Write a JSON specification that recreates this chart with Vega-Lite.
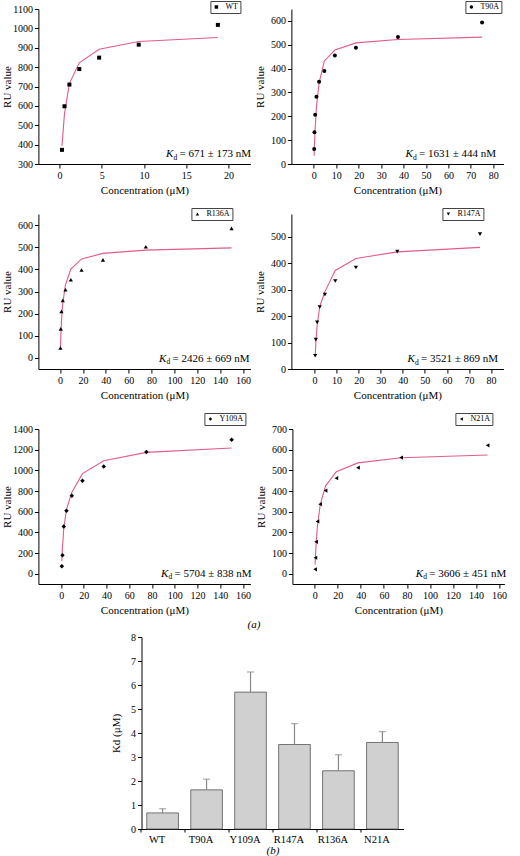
{
  "$schema": "https://vega.github.io/schema/vega-lite/v6.json",
  "padding": {"left": 1, "top": 0, "right": 0, "bottom": 0},
  "background": "white",
  "config": {
    "view": {"stroke": null},
    "font": "Liberation Serif",
    "numberFormat": "d",
    "axis": {"grid": false, "domainColor": "black", "tickColor": "black", "labelColor": "black", "titleColor": "black", "labelFont": "Liberation Serif", "titleFont": "Liberation Serif", "labelFontSize": 10, "titleFontSize": 11, "titleFontWeight": "normal", "tickSize": 4, "labelPadding": 2, "titlePadding": 4, "labelOverlap": false, "labelFlush": false},
    "axisY": {"titleX": -26},
    "legend": {"title": null, "strokeColor": "#444", "fillColor": "white", "padding": 2, "labelFont": "Liberation Serif", "labelFontSize": 8, "labelColor": "black", "symbolSize": 12, "labelOffset": 5, "symbolStrokeWidth": 0},
    "text": {"font": "Liberation Serif", "color": "black"},
    "title": {"font": "Liberation Serif", "fontWeight": "normal", "color": "black"}
  },
  "datasets": {
    "points": [
      {"mutant": "WT", "conc": 0.29, "ru": 373}, {"mutant": "WT", "conc": 0.59, "ru": 598}, {"mutant": "WT", "conc": 1.17, "ru": 710}, {"mutant": "WT", "conc": 2.34, "ru": 790}, {"mutant": "WT", "conc": 4.69, "ru": 849}, {"mutant": "WT", "conc": 9.38, "ru": 916}, {"mutant": "WT", "conc": 18.75, "ru": 1018},
      {"mutant": "T90A", "conc": 0.146, "ru": 63}, {"mutant": "T90A", "conc": 0.29, "ru": 133}, {"mutant": "T90A", "conc": 0.59, "ru": 207}, {"mutant": "T90A", "conc": 1.17, "ru": 282}, {"mutant": "T90A", "conc": 2.34, "ru": 345}, {"mutant": "T90A", "conc": 4.69, "ru": 390}, {"mutant": "T90A", "conc": 9.38, "ru": 455}, {"mutant": "T90A", "conc": 18.75, "ru": 488}, {"mutant": "T90A", "conc": 37.5, "ru": 533}, {"mutant": "T90A", "conc": 75, "ru": 593},
      {"mutant": "R136A", "conc": 0.29, "ru": 45}, {"mutant": "R136A", "conc": 0.59, "ru": 131}, {"mutant": "R136A", "conc": 1.17, "ru": 210}, {"mutant": "R136A", "conc": 2.34, "ru": 260}, {"mutant": "R136A", "conc": 4.69, "ru": 308}, {"mutant": "R136A", "conc": 9.38, "ru": 353}, {"mutant": "R136A", "conc": 18.75, "ru": 397}, {"mutant": "R136A", "conc": 37.5, "ru": 443}, {"mutant": "R136A", "conc": 75, "ru": 502}, {"mutant": "R136A", "conc": 150, "ru": 585},
      {"mutant": "R147A", "conc": 0.29, "ru": 50}, {"mutant": "R147A", "conc": 0.59, "ru": 111}, {"mutant": "R147A", "conc": 1.17, "ru": 176}, {"mutant": "R147A", "conc": 2.34, "ru": 234}, {"mutant": "R147A", "conc": 4.69, "ru": 281}, {"mutant": "R147A", "conc": 9.38, "ru": 332}, {"mutant": "R147A", "conc": 18.75, "ru": 383}, {"mutant": "R147A", "conc": 37.5, "ru": 443}, {"mutant": "R147A", "conc": 75, "ru": 509},
      {"mutant": "Y109A", "conc": 0.59, "ru": 71}, {"mutant": "Y109A", "conc": 1.17, "ru": 178}, {"mutant": "Y109A", "conc": 2.34, "ru": 456}, {"mutant": "Y109A", "conc": 4.69, "ru": 608}, {"mutant": "Y109A", "conc": 9.38, "ru": 753}, {"mutant": "Y109A", "conc": 18.75, "ru": 899}, {"mutant": "Y109A", "conc": 37.5, "ru": 1038}, {"mutant": "Y109A", "conc": 75, "ru": 1177}, {"mutant": "Y109A", "conc": 150, "ru": 1297},
      {"mutant": "N21A", "conc": 0.29, "ru": 21}, {"mutant": "N21A", "conc": 0.59, "ru": 77}, {"mutant": "N21A", "conc": 1.17, "ru": 154}, {"mutant": "N21A", "conc": 2.34, "ru": 253}, {"mutant": "N21A", "conc": 4.69, "ru": 336}, {"mutant": "N21A", "conc": 9.38, "ru": 402}, {"mutant": "N21A", "conc": 18.75, "ru": 462}, {"mutant": "N21A", "conc": 37.5, "ru": 513}, {"mutant": "N21A", "conc": 75, "ru": 562}, {"mutant": "N21A", "conc": 150, "ru": 621}
    ],
    "fits": [
      {"mutant": "WT", "conc": 0.29, "ru": 393}, {"mutant": "WT", "conc": 0.59, "ru": 560}, {"mutant": "WT", "conc": 1.17, "ru": 715}, {"mutant": "WT", "conc": 2.34, "ru": 822}, {"mutant": "WT", "conc": 4.69, "ru": 892}, {"mutant": "WT", "conc": 9.38, "ru": 932}, {"mutant": "WT", "conc": 18.75, "ru": 953},
      {"mutant": "T90A", "conc": 0.146, "ru": 35}, {"mutant": "T90A", "conc": 0.29, "ru": 85}, {"mutant": "T90A", "conc": 0.59, "ru": 150}, {"mutant": "T90A", "conc": 1.17, "ru": 240}, {"mutant": "T90A", "conc": 2.34, "ru": 340}, {"mutant": "T90A", "conc": 4.69, "ru": 432}, {"mutant": "T90A", "conc": 9.38, "ru": 478}, {"mutant": "T90A", "conc": 18.75, "ru": 508}, {"mutant": "T90A", "conc": 37.5, "ru": 522}, {"mutant": "T90A", "conc": 75, "ru": 532},
      {"mutant": "R136A", "conc": 0.29, "ru": 48}, {"mutant": "R136A", "conc": 0.59, "ru": 98}, {"mutant": "R136A", "conc": 1.17, "ru": 165}, {"mutant": "R136A", "conc": 2.34, "ru": 248}, {"mutant": "R136A", "conc": 4.69, "ru": 330}, {"mutant": "R136A", "conc": 9.38, "ru": 401}, {"mutant": "R136A", "conc": 18.75, "ru": 447}, {"mutant": "R136A", "conc": 37.5, "ru": 472}, {"mutant": "R136A", "conc": 75, "ru": 487}, {"mutant": "R136A", "conc": 150, "ru": 497},
      {"mutant": "R147A", "conc": 0.29, "ru": 50}, {"mutant": "R147A", "conc": 0.59, "ru": 100}, {"mutant": "R147A", "conc": 1.17, "ru": 165}, {"mutant": "R147A", "conc": 2.34, "ru": 235}, {"mutant": "R147A", "conc": 4.69, "ru": 292}, {"mutant": "R147A", "conc": 9.38, "ru": 372}, {"mutant": "R147A", "conc": 18.75, "ru": 417}, {"mutant": "R147A", "conc": 37.5, "ru": 442}, {"mutant": "R147A", "conc": 75, "ru": 459},
      {"mutant": "Y109A", "conc": 0.59, "ru": 123}, {"mutant": "Y109A", "conc": 1.17, "ru": 250}, {"mutant": "Y109A", "conc": 2.34, "ru": 440}, {"mutant": "Y109A", "conc": 4.69, "ru": 620}, {"mutant": "Y109A", "conc": 9.38, "ru": 786}, {"mutant": "Y109A", "conc": 18.75, "ru": 968}, {"mutant": "Y109A", "conc": 37.5, "ru": 1093}, {"mutant": "Y109A", "conc": 75, "ru": 1174}, {"mutant": "Y109A", "conc": 150, "ru": 1216},
      {"mutant": "N21A", "conc": 0.29, "ru": 44}, {"mutant": "N21A", "conc": 0.59, "ru": 83}, {"mutant": "N21A", "conc": 1.17, "ru": 144}, {"mutant": "N21A", "conc": 2.34, "ru": 230}, {"mutant": "N21A", "conc": 4.69, "ru": 332}, {"mutant": "N21A", "conc": 9.38, "ru": 425}, {"mutant": "N21A", "conc": 18.75, "ru": 493}, {"mutant": "N21A", "conc": 37.5, "ru": 536}, {"mutant": "N21A", "conc": 75, "ru": 561}, {"mutant": "N21A", "conc": 150, "ru": 574}
    ],
    "kd": [
      {"mutant": "WT", "kd_uM": 0.671, "hi": 0.844, "label": "= 671 ± 173 nM"},
      {"mutant": "T90A", "kd_uM": 1.631, "hi": 2.075, "label": "= 1631 ± 444 nM"},
      {"mutant": "Y109A", "kd_uM": 5.704, "hi": 6.542, "label": "= 5704 ± 838 nM"},
      {"mutant": "R147A", "kd_uM": 3.521, "hi": 4.390, "label": "= 3521 ± 869 nM"},
      {"mutant": "R136A", "kd_uM": 2.426, "hi": 3.095, "label": "= 2426 ± 669 nM"},
      {"mutant": "N21A", "kd_uM": 3.606, "hi": 4.057, "label": "= 3606 ± 451 nM"}
    ]
  },
  "vconcat": [
    {
      "vconcat": [
        {
          "hconcat": [
            {
              "width": 212, "height": 155,
              "layer": [
                {"data": {"name": "fits"}, "transform": [{"filter": "datum.mutant === 'WT'"}], "mark": {"type": "line", "color": "#e25c85", "strokeWidth": 1.1},
                 "encoding": {"x": {"field": "conc", "type": "quantitative", "scale": {"domain": [-2.5, 22.6], "nice": false, "zero": false}, "axis": {"values": [0, 5, 10, 15, 20], "tickCount": 50, "title": "Concentration (μM)"}},
                              "y": {"field": "ru", "type": "quantitative", "scale": {"domain": [300, 1100], "nice": false, "zero": false}, "axis": {"values": [300, 400, 500, 600, 700, 800, 900, 1000, 1100], "tickCount": 50, "title": "RU value"}}}},
                {"data": {"name": "points"}, "transform": [{"filter": "datum.mutant === 'WT'"}], "mark": {"type": "point", "filled": true, "size": 16, "opacity": 1, "color": "black"},
                 "encoding": {"x": {"field": "conc", "type": "quantitative"}, "y": {"field": "ru", "type": "quantitative"},
                              "shape": {"field": "mutant", "type": "nominal", "scale": {"range": ["square"]}, "legend": {"orient": "none", "legendX": 172, "legendY": -8}}}},
                {"data": {"name": "kd"}, "transform": [{"filter": "datum.mutant === 'WT'"}], "mark": {"type": "text", "text": "K", "align": "left", "baseline": "alphabetic", "fontStyle": "italic", "fontSize": 11}, "encoding": {"x": {"datum": 12.6}, "y": {"datum": 336}}},
                {"data": {"name": "kd"}, "transform": [{"filter": "datum.mutant === 'WT'"}], "mark": {"type": "text", "text": "d", "align": "left", "baseline": "alphabetic", "fontSize": 7.5, "dx": 7.5, "dy": 2.5}, "encoding": {"x": {"datum": 12.6}, "y": {"datum": 336}}},
                {"data": {"name": "kd"}, "transform": [{"filter": "datum.mutant === 'WT'"}], "mark": {"type": "text", "align": "left", "baseline": "alphabetic", "fontSize": 11, "dx": 13.5}, "encoding": {"x": {"datum": 12.6}, "y": {"datum": 336}, "text": {"field": "label"}}}
              ]
            },
            {
              "width": 212, "height": 155,
              "layer": [
                {"data": {"name": "fits"}, "transform": [{"filter": "datum.mutant === 'T90A'"}], "mark": {"type": "line", "color": "#e25c85", "strokeWidth": 1.1},
                 "encoding": {"x": {"field": "conc", "type": "quantitative", "scale": {"domain": [-10, 84.5], "nice": false, "zero": false}, "axis": {"values": [0, 10, 20, 30, 40, 50, 60, 70, 80], "tickCount": 50, "title": "Concentration (μM)"}},
                              "y": {"field": "ru", "type": "quantitative", "scale": {"domain": [0, 650], "nice": false, "zero": false}, "axis": {"values": [0, 100, 200, 300, 400, 500, 600], "tickCount": 50, "title": "RU value"}}}},
                {"data": {"name": "points"}, "transform": [{"filter": "datum.mutant === 'T90A'"}], "mark": {"type": "point", "filled": true, "size": 16, "opacity": 1, "color": "black"},
                 "encoding": {"x": {"field": "conc", "type": "quantitative"}, "y": {"field": "ru", "type": "quantitative"},
                              "shape": {"field": "mutant", "type": "nominal", "scale": {"range": ["circle"]}, "legend": {"orient": "none", "legendX": 174, "legendY": -8}}}},
                {"data": {"name": "kd"}, "transform": [{"filter": "datum.mutant === 'T90A'"}], "mark": {"type": "text", "text": "K", "align": "left", "baseline": "alphabetic", "fontStyle": "italic", "fontSize": 11}, "encoding": {"x": {"datum": 40.9}, "y": {"datum": 29}}},
                {"data": {"name": "kd"}, "transform": [{"filter": "datum.mutant === 'T90A'"}], "mark": {"type": "text", "text": "d", "align": "left", "baseline": "alphabetic", "fontSize": 7.5, "dx": 7.5, "dy": 2.5}, "encoding": {"x": {"datum": 40.9}, "y": {"datum": 29}}},
                {"data": {"name": "kd"}, "transform": [{"filter": "datum.mutant === 'T90A'"}], "mark": {"type": "text", "align": "left", "baseline": "alphabetic", "fontSize": 11, "dx": 13.5}, "encoding": {"x": {"datum": 40.9}, "y": {"datum": 29}, "text": {"field": "label"}}}
              ]
            }
          ],
          "spacing": 3,
          "resolve": {"scale": {"shape": "independent"}, "legend": {"shape": "independent"}}
        },
        {
          "hconcat": [
            {
              "width": 212, "height": 155,
              "layer": [
                {"data": {"name": "fits"}, "transform": [{"filter": "datum.mutant === 'R136A'"}], "mark": {"type": "line", "color": "#e25c85", "strokeWidth": 1.1},
                 "encoding": {"x": {"field": "conc", "type": "quantitative", "scale": {"domain": [-19, 166.5], "nice": false, "zero": false}, "axis": {"values": [0, 20, 40, 60, 80, 100, 120, 140, 160], "tickCount": 50, "title": "Concentration (μM)"}},
                              "y": {"field": "ru", "type": "quantitative", "scale": {"domain": [-50, 650], "nice": false, "zero": false}, "axis": {"values": [0, 100, 200, 300, 400, 500, 600], "tickCount": 50, "title": "RU value"}}}},
                {"data": {"name": "points"}, "transform": [{"filter": "datum.mutant === 'R136A'"}], "mark": {"type": "point", "filled": true, "size": 18, "opacity": 1, "color": "black"},
                 "encoding": {"x": {"field": "conc", "type": "quantitative"}, "y": {"field": "ru", "type": "quantitative"},
                              "shape": {"field": "mutant", "type": "nominal", "scale": {"range": ["triangle-up"]}, "legend": {"orient": "none", "legendX": 153, "legendY": -6}}}},
                {"data": {"name": "kd"}, "transform": [{"filter": "datum.mutant === 'R136A'"}], "mark": {"type": "text", "text": "K", "align": "left", "baseline": "alphabetic", "fontStyle": "italic", "fontSize": 11}, "encoding": {"x": {"datum": 86.5}, "y": {"datum": -18}}},
                {"data": {"name": "kd"}, "transform": [{"filter": "datum.mutant === 'R136A'"}], "mark": {"type": "text", "text": "d", "align": "left", "baseline": "alphabetic", "fontSize": 7.5, "dx": 7.5, "dy": 2.5}, "encoding": {"x": {"datum": 86.5}, "y": {"datum": -18}}},
                {"data": {"name": "kd"}, "transform": [{"filter": "datum.mutant === 'R136A'"}], "mark": {"type": "text", "align": "left", "baseline": "alphabetic", "fontSize": 11, "dx": 13.5}, "encoding": {"x": {"datum": 86.5}, "y": {"datum": -18}, "text": {"field": "label"}}}
              ]
            },
            {
              "width": 212, "height": 155,
              "layer": [
                {"data": {"name": "fits"}, "transform": [{"filter": "datum.mutant === 'R147A'"}], "mark": {"type": "line", "color": "#e25c85", "strokeWidth": 1.1},
                 "encoding": {"x": {"field": "conc", "type": "quantitative", "scale": {"domain": [-10.5, 85.6], "nice": false, "zero": false}, "axis": {"values": [0, 10, 20, 30, 40, 50, 60, 70, 80], "tickCount": 50, "title": "Concentration (μM)"}},
                              "y": {"field": "ru", "type": "quantitative", "scale": {"domain": [0, 585], "nice": false, "zero": false}, "axis": {"values": [0, 100, 200, 300, 400, 500], "tickCount": 50, "title": "RU value"}}}},
                {"data": {"name": "points"}, "transform": [{"filter": "datum.mutant === 'R147A'"}], "mark": {"type": "point", "filled": true, "size": 18, "opacity": 1, "color": "black"},
                 "encoding": {"x": {"field": "conc", "type": "quantitative"}, "y": {"field": "ru", "type": "quantitative"},
                              "shape": {"field": "mutant", "type": "nominal", "scale": {"range": ["triangle-down"]}, "legend": {"orient": "none", "legendX": 151, "legendY": -6}}}},
                {"data": {"name": "kd"}, "transform": [{"filter": "datum.mutant === 'R147A'"}], "mark": {"type": "text", "text": "K", "align": "left", "baseline": "alphabetic", "fontStyle": "italic", "fontSize": 11}, "encoding": {"x": {"datum": 42.1}, "y": {"datum": 26}}},
                {"data": {"name": "kd"}, "transform": [{"filter": "datum.mutant === 'R147A'"}], "mark": {"type": "text", "text": "d", "align": "left", "baseline": "alphabetic", "fontSize": 7.5, "dx": 7.5, "dy": 2.5}, "encoding": {"x": {"datum": 42.1}, "y": {"datum": 26}}},
                {"data": {"name": "kd"}, "transform": [{"filter": "datum.mutant === 'R147A'"}], "mark": {"type": "text", "align": "left", "baseline": "alphabetic", "fontSize": 11, "dx": 13.5}, "encoding": {"x": {"datum": 42.1}, "y": {"datum": 26}, "text": {"field": "label"}}}
              ]
            }
          ],
          "spacing": 3,
          "resolve": {"scale": {"shape": "independent"}, "legend": {"shape": "independent"}}
        },
        {
          "title": {"text": "(a)", "orient": "bottom", "anchor": "middle", "offset": 4, "fontStyle": "italic", "fontSize": 11, "fontWeight": "normal", "font": "Liberation Serif", "color": "black"},
          "hconcat": [
            {
              "width": 212, "height": 155,
              "layer": [
                {"data": {"name": "fits"}, "transform": [{"filter": "datum.mutant === 'Y109A'"}], "mark": {"type": "line", "color": "#e25c85", "strokeWidth": 1.1},
                 "encoding": {"x": {"field": "conc", "type": "quantitative", "scale": {"domain": [-20, 166.5], "nice": false, "zero": false}, "axis": {"values": [0, 20, 40, 60, 80, 100, 120, 140, 160], "tickCount": 50, "title": "Concentration (μM)"}},
                              "y": {"field": "ru", "type": "quantitative", "scale": {"domain": [-100, 1400], "nice": false, "zero": false}, "axis": {"values": [0, 200, 400, 600, 800, 1000, 1200, 1400], "tickCount": 50, "title": "RU value"}}}},
                {"data": {"name": "points"}, "transform": [{"filter": "datum.mutant === 'Y109A'"}], "mark": {"type": "point", "filled": true, "size": 20, "opacity": 1, "color": "black"},
                 "encoding": {"x": {"field": "conc", "type": "quantitative"}, "y": {"field": "ru", "type": "quantitative"},
                              "shape": {"field": "mutant", "type": "nominal", "scale": {"range": ["diamond"]}, "legend": {"orient": "none", "legendX": 166, "legendY": -16}}}},
                {"data": {"name": "kd"}, "transform": [{"filter": "datum.mutant === 'Y109A'"}], "mark": {"type": "text", "text": "K", "align": "left", "baseline": "alphabetic", "fontStyle": "italic", "fontSize": 11}, "encoding": {"x": {"datum": 87.8}, "y": {"datum": -32}}},
                {"data": {"name": "kd"}, "transform": [{"filter": "datum.mutant === 'Y109A'"}], "mark": {"type": "text", "text": "d", "align": "left", "baseline": "alphabetic", "fontSize": 7.5, "dx": 7.5, "dy": 2.5}, "encoding": {"x": {"datum": 87.8}, "y": {"datum": -32}}},
                {"data": {"name": "kd"}, "transform": [{"filter": "datum.mutant === 'Y109A'"}], "mark": {"type": "text", "align": "left", "baseline": "alphabetic", "fontSize": 11, "dx": 13.5}, "encoding": {"x": {"datum": 87.8}, "y": {"datum": -32}, "text": {"field": "label"}}}
              ]
            },
            {
              "width": 212, "height": 155,
              "layer": [
                {"data": {"name": "fits"}, "transform": [{"filter": "datum.mutant === 'N21A'"}], "mark": {"type": "line", "color": "#e25c85", "strokeWidth": 1.1},
                 "encoding": {"x": {"field": "conc", "type": "quantitative", "scale": {"domain": [-19.4, 164.6], "nice": false, "zero": false}, "axis": {"values": [0, 20, 40, 60, 80, 100, 120, 140, 160], "tickCount": 50, "title": "Concentration (μM)"}},
                              "y": {"field": "ru", "type": "quantitative", "scale": {"domain": [-50, 700], "nice": false, "zero": false}, "axis": {"values": [0, 100, 200, 300, 400, 500, 600, 700], "tickCount": 50, "title": "RU value"}}}},
                {"data": {"name": "points"}, "transform": [{"filter": "datum.mutant === 'N21A'"}], "mark": {"type": "point", "filled": true, "size": 18, "opacity": 1, "color": "black"},
                 "encoding": {"x": {"field": "conc", "type": "quantitative"}, "y": {"field": "ru", "type": "quantitative"},
                              "shape": {"field": "mutant", "type": "nominal", "scale": {"range": ["triangle-left"]}, "legend": {"orient": "none", "legendX": 163, "legendY": -16}}}},
                {"data": {"name": "kd"}, "transform": [{"filter": "datum.mutant === 'N21A'"}], "mark": {"type": "text", "text": "K", "align": "left", "baseline": "alphabetic", "fontStyle": "italic", "fontSize": 11}, "encoding": {"x": {"datum": 87.6}, "y": {"datum": -16}}},
                {"data": {"name": "kd"}, "transform": [{"filter": "datum.mutant === 'N21A'"}], "mark": {"type": "text", "text": "d", "align": "left", "baseline": "alphabetic", "fontSize": 7.5, "dx": 7.5, "dy": 2.5}, "encoding": {"x": {"datum": 87.6}, "y": {"datum": -16}}},
                {"data": {"name": "kd"}, "transform": [{"filter": "datum.mutant === 'N21A'"}], "mark": {"type": "text", "align": "left", "baseline": "alphabetic", "fontSize": 11, "dx": 13.5}, "encoding": {"x": {"datum": 87.6}, "y": {"datum": -16}, "text": {"field": "label"}}}
              ]
            }
          ],
          "spacing": 3,
          "resolve": {"scale": {"shape": "independent"}, "legend": {"shape": "independent"}}
        }
      ],
      "spacing": 12,
      "resolve": {"scale": {"shape": "independent"}, "legend": {"shape": "independent"}}
    },
    {
      "width": 262, "height": 192,
      "data": {"name": "kd"},
      "encoding": {"x": {"field": "mutant", "type": "nominal", "sort": ["WT", "T90A", "Y109A", "R147A", "R136A", "N21A"], "scale": {"paddingInner": 0.28, "paddingOuter": 0.12}, "axis": {"title": "(b)", "titleFontStyle": "italic", "labelAngle": 0, "labelFontSize": 10.5, "tickSize": 3, "bandPosition": 0, "tickOffset": -6, "titlePadding": 0}}},
      "layer": [
        {"mark": {"type": "bar", "fill": "#d0d0d0", "stroke": "#555", "strokeWidth": 0.8},
         "encoding": {"y": {"field": "kd_uM", "type": "quantitative", "scale": {"domain": [0, 8], "nice": false}, "axis": {"values": [0, 1, 2, 3, 4, 5, 6, 7, 8], "tickCount": 50, "title": "Kd (μM)", "titleX": -20}}}},
        {"mark": {"type": "rule", "color": "#888", "strokeWidth": 1.2}, "encoding": {"y": {"field": "kd_uM", "type": "quantitative"}, "y2": {"field": "hi"}}},
        {"mark": {"type": "tick", "color": "#888", "size": 7, "thickness": 1.2}, "encoding": {"y": {"field": "hi", "type": "quantitative"}}}
      ]
    }
  ],
  "spacing": 2, "center": true,
  "resolve": {"scale": {"shape": "independent"}, "legend": {"shape": "independent"}}
}
